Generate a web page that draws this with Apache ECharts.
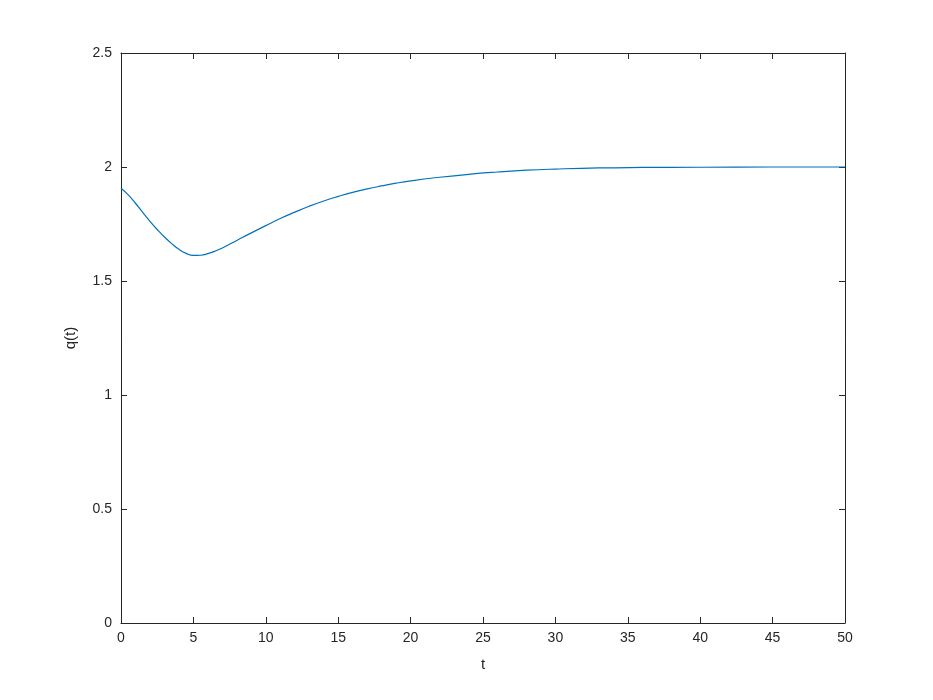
<!DOCTYPE html>
<html>
<head>
<meta charset="utf-8">
<script src="https://cdn.jsdelivr.net/npm/echarts@6/dist/echarts.min.js"></script>
<style>
html, body { margin: 0; padding: 0; background: #fff; }
#chart { width: 933px; height: 700px; }
</style>
</head>
<body>
<div id="chart"></div>
<script>
// values
let tValues = [0, 0.5, 1, 1.5, 2, 2.5, 3, 3.5, 4, 4.5, 5, 5.5, 6, 6.5, 7, 8, 9, 10, 11, 12, 13, 14, 15, 16, 17, 18, 19, 20, 22, 24, 26, 28, 30, 33, 36, 40, 45, 50];
let qValues = [1.907, 1.878, 1.841, 1.801, 1.762, 1.726, 1.693, 1.664, 1.639, 1.621, 1.612, 1.613, 1.620, 1.631, 1.645, 1.678, 1.711, 1.743, 1.774, 1.802, 1.828, 1.851, 1.871, 1.889, 1.904, 1.917, 1.929, 1.939, 1.955, 1.968, 1.978, 1.986, 1.991, 1.996, 1.998, 1.999, 2.0, 2.0];
let xTicks = [0, 5, 10, 15, 20, 25, 30, 35, 40, 45, 50];
let yTicks = [0, 0.5, 1, 1.5, 2, 2.5];

let axisColor = '#262626';
let font = 'Liberation Sans, Arial, sans-serif';

let baseAxis = {
    type: 'value',
    axisLine: { show: true, onZero: false, lineStyle: { color: axisColor, width: 1 } },
    axisTick: { show: true, inside: true, length: 6, lineStyle: { color: axisColor } },
    splitLine: { show: false },
    axisLabel: { color: axisColor, fontSize: 14, fontFamily: font }
};

let option = {
    animation: false,
    backgroundColor: '#fff',
    grid: { left: 121, right: 88, top: 53, bottom: 77 },
    xAxis: [
        Object.assign({}, baseAxis, {
            min: xTicks[0], max: xTicks[xTicks.length - 1], interval: 5,
            name: 't', nameLocation: 'middle', nameGap: 34,
            nameTextStyle: { color: axisColor, fontSize: 15, fontFamily: font },
            axisLabel: Object.assign({}, baseAxis.axisLabel, { margin: 8 })
        }),
        Object.assign({}, baseAxis, {
            position: 'top', min: 0, max: 50, interval: 5,
            axisLabel: { show: false }
        })
    ],
    yAxis: [
        Object.assign({}, baseAxis, {
            min: yTicks[0], max: yTicks[yTicks.length - 1], interval: 0.5,
            name: 'q(t)', nameLocation: 'middle', nameGap: 43, nameRotate: 90,
            nameTextStyle: { color: axisColor, fontSize: 15, fontFamily: font },
            axisLabel: Object.assign({}, baseAxis.axisLabel, { margin: 9, formatter: v => String(v) })
        }),
        Object.assign({}, baseAxis, {
            position: 'right', min: 0, max: 2.5, interval: 0.5,
            axisLabel: { show: false }
        })
    ],
    series: [{
        type: 'line',
        data: tValues.map((t, i) => [t, qValues[i]]),
        smooth: 0.5,
        showSymbol: false,
        lineStyle: { color: '#0072BD', width: 1.2 }
    }]
};

let myChart = echarts.init(document.getElementById('chart'));
myChart.setOption(option);
</script>
</body>
</html>
